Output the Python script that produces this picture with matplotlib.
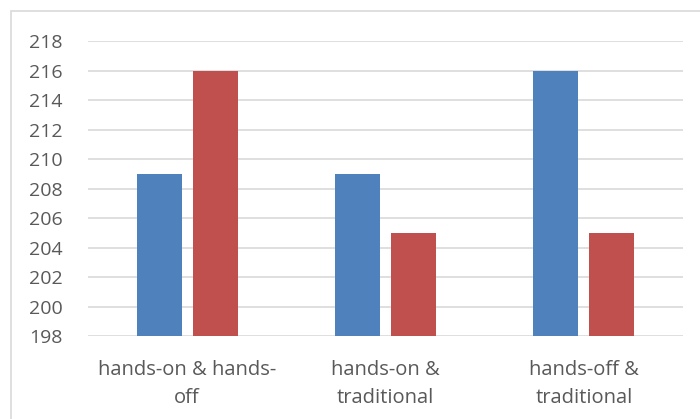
import matplotlib.pyplot as plt
import numpy as np
from matplotlib.patches import Rectangle

categories = ['hands-on & hands-\noff', 'hands-on &\ntraditional', 'hands-off &\ntraditional']
series_a = [209, 209, 216]
series_b = [216, 205, 205]
yticks = list(range(198, 219, 2))

plt.rcParams['font.family'] = ['Open Sans', 'DejaVu Sans']

fig = plt.figure(figsize=(7, 4.19), dpi=100)
ax = fig.add_axes([0.1257, 0.198, 0.85, 0.704])

# chart border
fig.patches.append(Rectangle((11 / 700, -0.1), 1.2, 1 - 11 / 419 + 0.1,
                             transform=fig.transFigure, fill=False,
                             edgecolor='#D9D9D9', linewidth=1.2))

x = np.arange(len(categories))
w = 0.227
off = 0.1414
ax.bar(x - off, np.array(series_a) - 198, w, bottom=198, color='#4F81BD', zorder=3)
ax.bar(x + off, np.array(series_b) - 198, w, bottom=198, color='#C0504D', zorder=3)

ax.set_xlim(-0.5, 2.5)
ax.set_ylim(198, 218)
ax.set_yticks(yticks)
ax.set_xticks(x)
ax.set_xticklabels(categories, linespacing=1.55)
ax.grid(axis='y', color='#D9D9D9', linewidth=1.2, zorder=0)
for s in ax.spines.values():
    s.set_visible(False)
ax.tick_params(length=0, labelcolor='#595959')
ax.tick_params(axis='y', pad=18, labelsize=14)
ax.tick_params(axis='x', pad=17, labelsize=14.5)

fig.savefig('out.png', dpi=100)
